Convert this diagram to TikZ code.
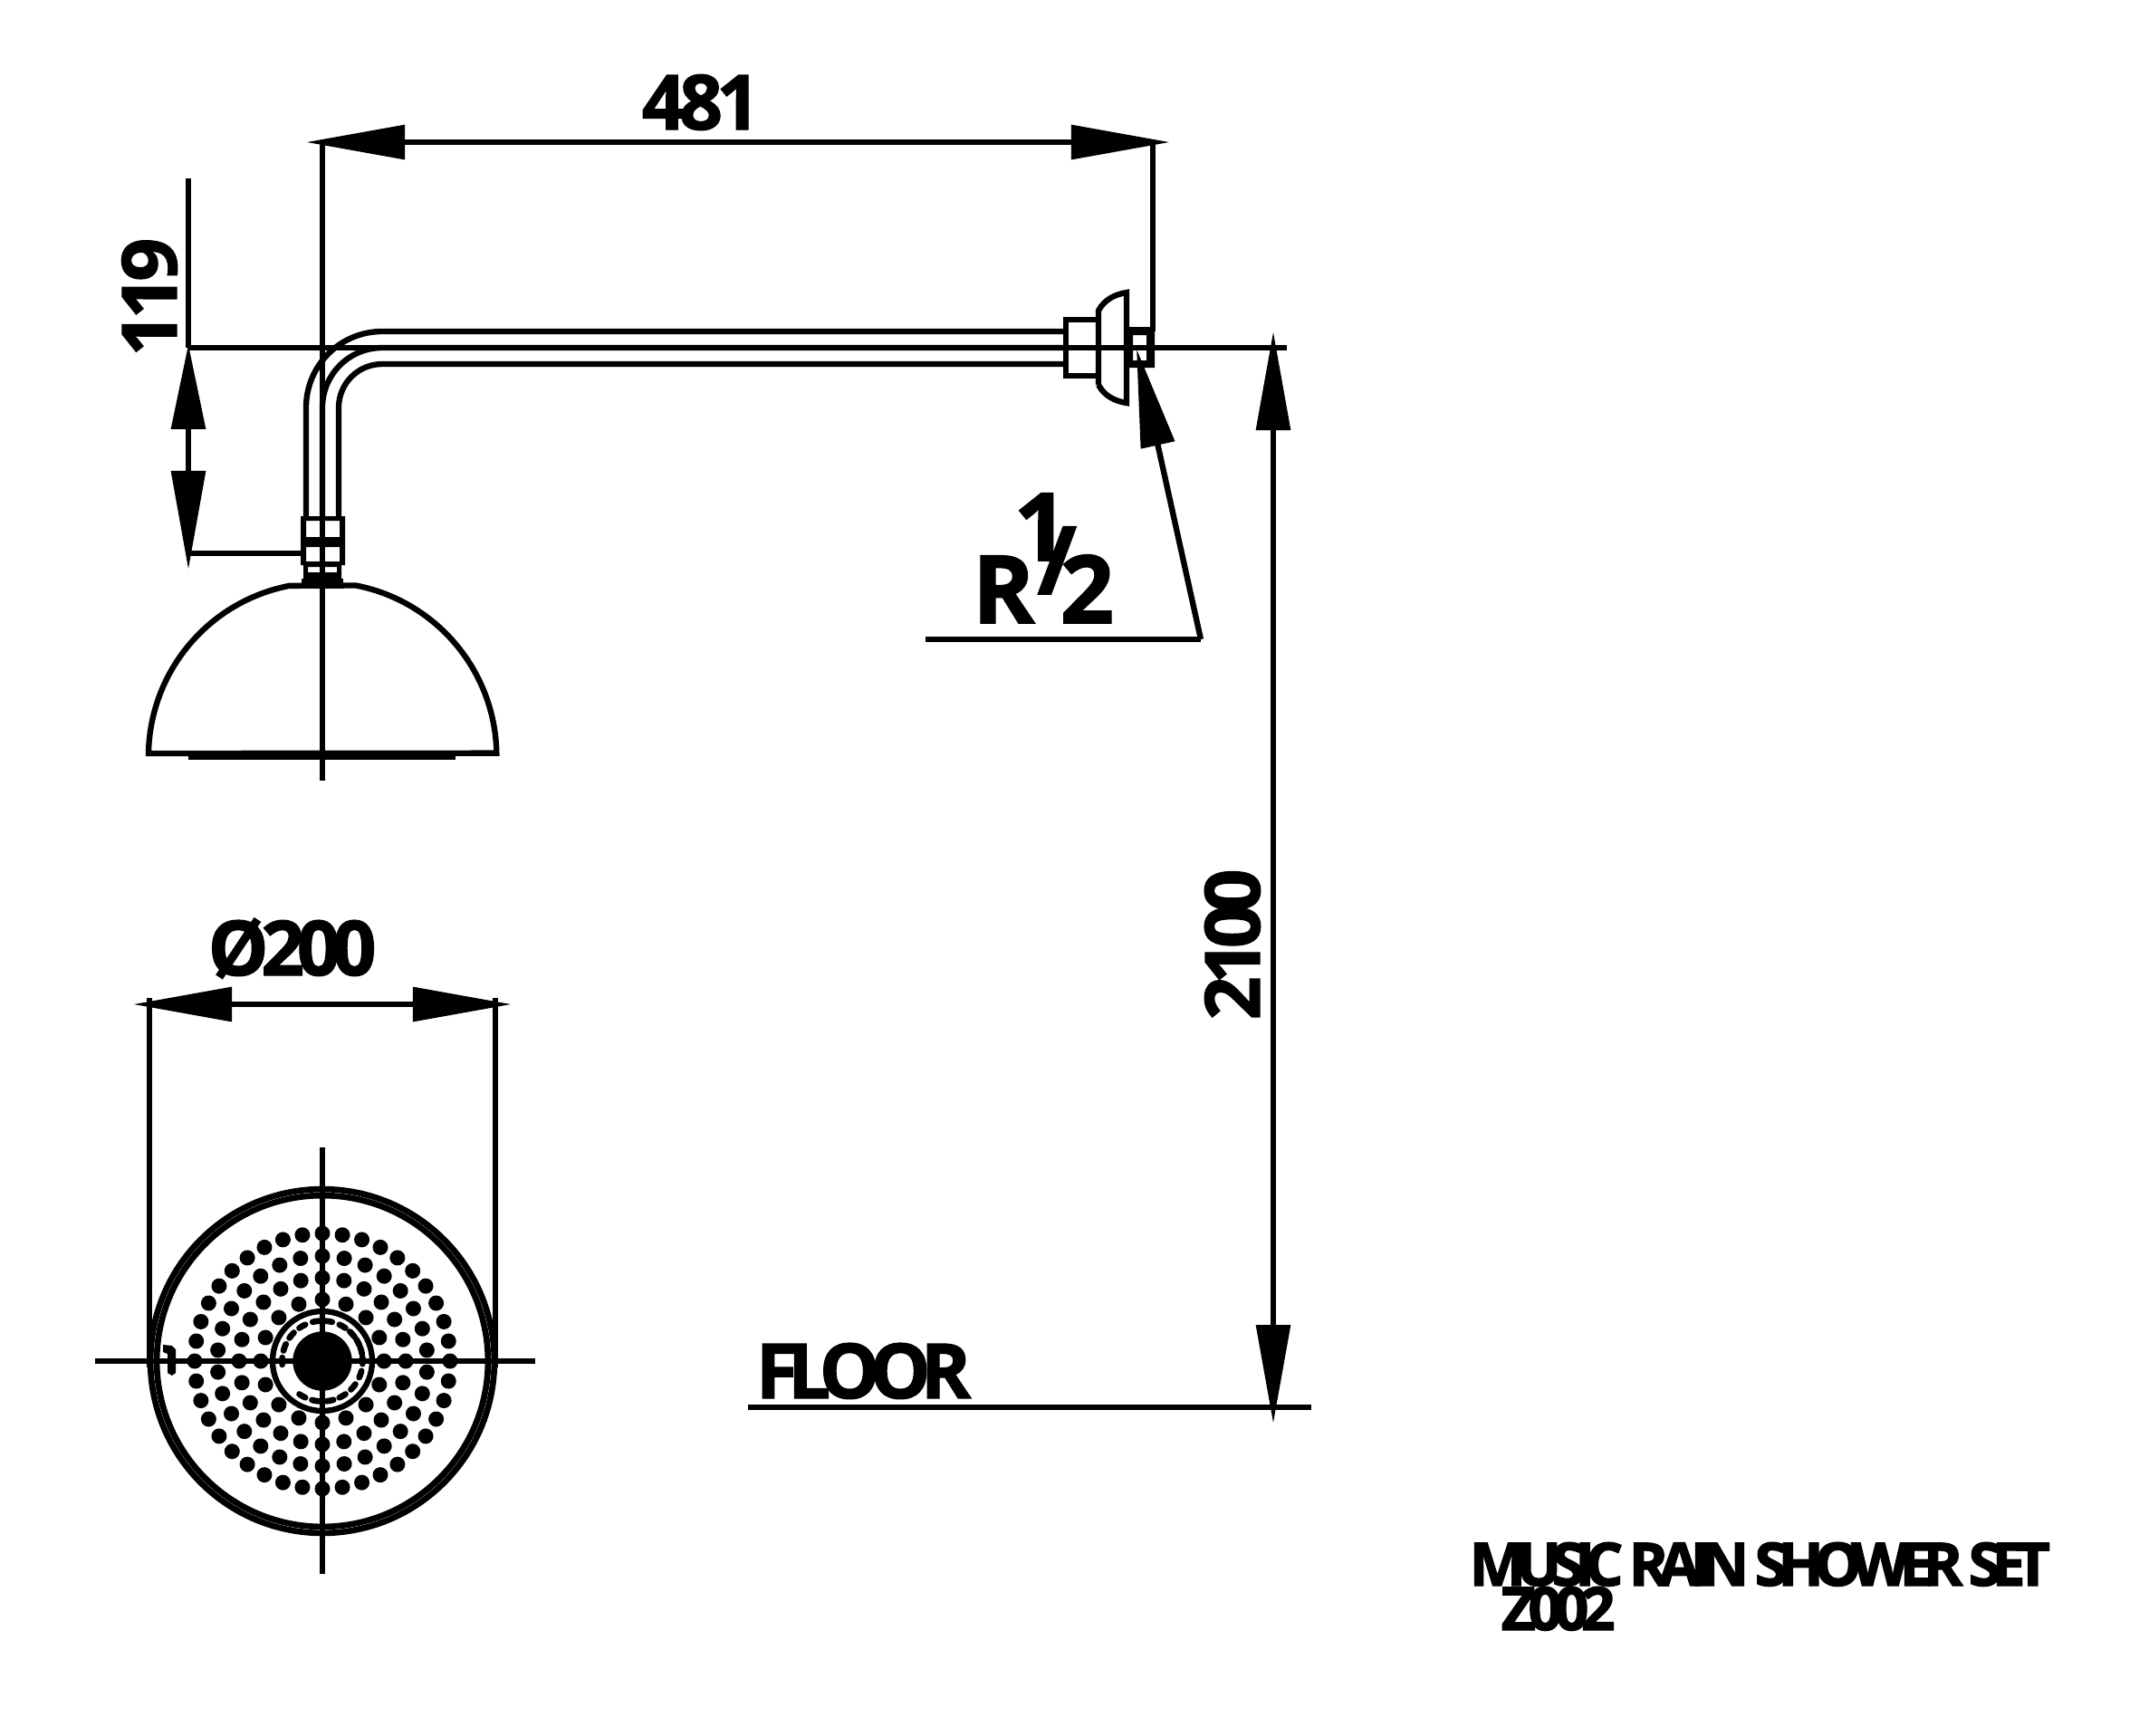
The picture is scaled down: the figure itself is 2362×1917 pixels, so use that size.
\documentclass[tikz,border=0pt]{standalone}
\usepackage{fontspec}
\setmainfont{Open Sans}
\usetikzlibrary{arrows.meta}
\newcommand{\DimSize}{\fontsize{23.9}{26}\selectfont\bfseries}
\newcommand{\BigSize}{\fontsize{29.6}{32}\selectfont\bfseries\addfontfeature{FakeBold=1.5}}
\newcommand{\TitleSize}{\fontsize{18.8}{20}\selectfont\bfseries}
\tikzstyle{Part}=[draw=black,line width=1.8pt]
\tikzstyle{Edge}=[draw=black,line width=1.8pt]
\tikzstyle{Dim}=[Edge,{Triangle[length=31pt,width=10.5pt]}-{Triangle[length=31pt,width=10.5pt]}]
\tikzstyle{Leader}=[Edge,{Triangle[length=31pt,width=10.5pt]}-]
\tikzstyle{NodeDim}=[inner sep=0pt,anchor=base west,font=\DimSize]
\tikzstyle{NodeBig}=[inner sep=0pt,anchor=base west,font=\BigSize]
\tikzstyle{NodeTitle}=[inner sep=0pt,anchor=base west,font=\TitleSize]
\begin{document}
\begin{tikzpicture}[x=0.01cm,y=-0.01cm]
        \useasboundingbox(0,0)rectangle(2362,1917);
        \coordinate(topl)at(338,157);
        \coordinate(topr)at(1292,157);
        \coordinate(extl)at(356,157);
        \coordinate(extb)at(356,862);
        \coordinate(extr)at(1273,157);
        \coordinate(extd)at(1273,366);
        \coordinate(riseu)at(208,197);
        \coordinate(rised)at(208,384);
        \coordinate(axise)at(1421,384);
        \coordinate(dropa)at(208,380);
        \coordinate(dropb)at(208,629);
        \coordinate(dropc)at(208,611);
        \coordinate(dropd)at(333,611);
        \coordinate(tallu)at(1406,366);
        \coordinate(talld)at(1406,1572);
        \coordinate(floorl)at(826,1554);
        \coordinate(floorr)at(1448,1554);
        \coordinate(tip)at(1255,385);
        \coordinate(knee)at(1326,706);
        \coordinate(shelf)at(1022,706);
        \coordinate(diaml)at(147,1109);
        \coordinate(diamr)at(565,1109);
        \coordinate(diaea)at(165,1102);
        \coordinate(diaeb)at(165,1510);
        \coordinate(diafa)at(547,1102);
        \coordinate(diafb)at(547,1510);
        \coordinate(faceh1)at(105,1503);
        \coordinate(faceh2)at(591,1503);
        \coordinate(facev1)at(356,1267);
        \coordinate(facev2)at(356,1738);
        \foreach \r in {84,66,48}
            \draw[Part](1177,450-\r)--(422,450-\r)arc[start angle=270,end angle=180,radius=\r]--(422-\r,570);
        \draw[Part](1177,353)rectangle(1213,415);
        \draw[Part](1213,425)--(1213,343)..controls(1220,330)and(1232,325)..(1244,323)--(1244,445)..controls(1232,443)and(1220,438)..(1213,425);
        \fill[even odd rule](1244,361)rectangle(1275,406)(1251,370)rectangle(1266,398);
        \fill[even odd rule](332,570)rectangle(381,624)(338,575)rectangle(375,593)(338,604)rectangle(375,621);
        \fill[even odd rule](335,620)rectangle(377,639)(340,626)rectangle(372,632);
        \fill(333,639)rectangle(379,647);
        \draw[Part](164,832)arc[start angle=181,end angle=259,radius=192]--(393,646.5)arc[start angle=281,end angle=359,radius=192]--cycle;
        \draw[Part,line width=2pt](208,835)--(503,835);
        \draw[Edge](extl)--(extb);
        \draw[Edge](extr)--(extd);
        \draw[Edge](riseu)--(rised);
        \draw[Edge](rised)--(axise);
        \draw[Edge](dropc)--(dropd);
        \draw[Edge](floorl)--(floorr);
        \draw[Edge](shelf)--(knee);
        \draw[Dim](topl)--(topr);
        \draw[Edge,{Triangle[length=26.7pt,width=10.5pt]}-{Triangle[length=31pt,width=10.5pt]}](dropa)--(dropb);
        \draw[Dim](tallu)--(talld);
        \draw[Dim](diaml)--(diamr);
        \draw[Leader](tip)--(knee);
        \draw[Edge](diaea)--(diaeb);
        \draw[Edge](diafa)--(diafb);
        \begin{scope}[shift={(356,1503)}]
            \draw[Part,line width=1.9pt](0,0)circle[radius=189.9];
            \draw[Part,line width=1.9pt](0,0)circle[radius=182.9];
            \draw[Part](0,0)circle[radius=55];
            \fill(0,0)circle[radius=32.7];
            \foreach \a in {0,9,...,351}\fill(\a:141)circle[radius=8.5];
            \foreach \a in {6,18,...,354}\fill(\a:116)circle[radius=8.5];
            \foreach \a in {0,15,...,345}\fill(\a:92)circle[radius=8.5];
            \foreach \a in {0,22.5,...,337.5}\fill(\a:68)circle[radius=8.5];
            \foreach \a in {99,81,60,42,28,15,1,-19,-40,-60,-79,-100,-120,180,160,140,120}
                \draw[Part,line cap=round,line width=1.9pt](-\a-5:44.5)arc[start angle=-\a-5,end angle=-\a+5,radius=44.5];
        \end{scope}
        \draw[Edge](faceh1)--(faceh2);
        \draw[Edge](facev1)--(facev2);
        \fill(180,1485)--(190,1486)--(194,1490)--(194,1516)--(190,1519)--(185,1516)--(185,1495)--(180,1493)--cycle;
        \node[NodeDim](n481)at(708,143){\addfontfeature{LetterSpace=-8,FakeBold=1.5}481};
        \node[NodeDim,rotate=90](n119)at(195,394){\addfontfeature{LetterSpace=-8,FakeBold=1.5}119};
        \node[NodeDim](n200)at(229,1077){\addfontfeature{LetterSpace=-10,FakeBold=1.5}Ø200};
        \node[NodeDim,rotate=90](n2100)at(1391,1127){\addfontfeature{LetterSpace=-10,FakeBold=1.5}2100};
        \node[NodeDim](nfloor)at(834,1544){\addfontfeature{LetterSpace=-13,FakeBold=1.5}FLOOR};
        \node[NodeBig](nr)at(1073,688){R};
        \node[NodeBig](none)at(1119,619){1};
        \node[NodeBig](nslash)at(1145,656){/};
        \node[NodeBig](ntwo)at(1170,688){2};
        \node[NodeTitle](nset)at(1622,1751){\addfontfeature{LetterSpace=-16.3,FakeBold=2}MUSIC RAIN SHOWER SET};
        \node[NodeTitle](ncode)at(1657,1800){\addfontfeature{LetterSpace=-13,FakeBold=2}Z002};
\end{tikzpicture}
\end{document}
